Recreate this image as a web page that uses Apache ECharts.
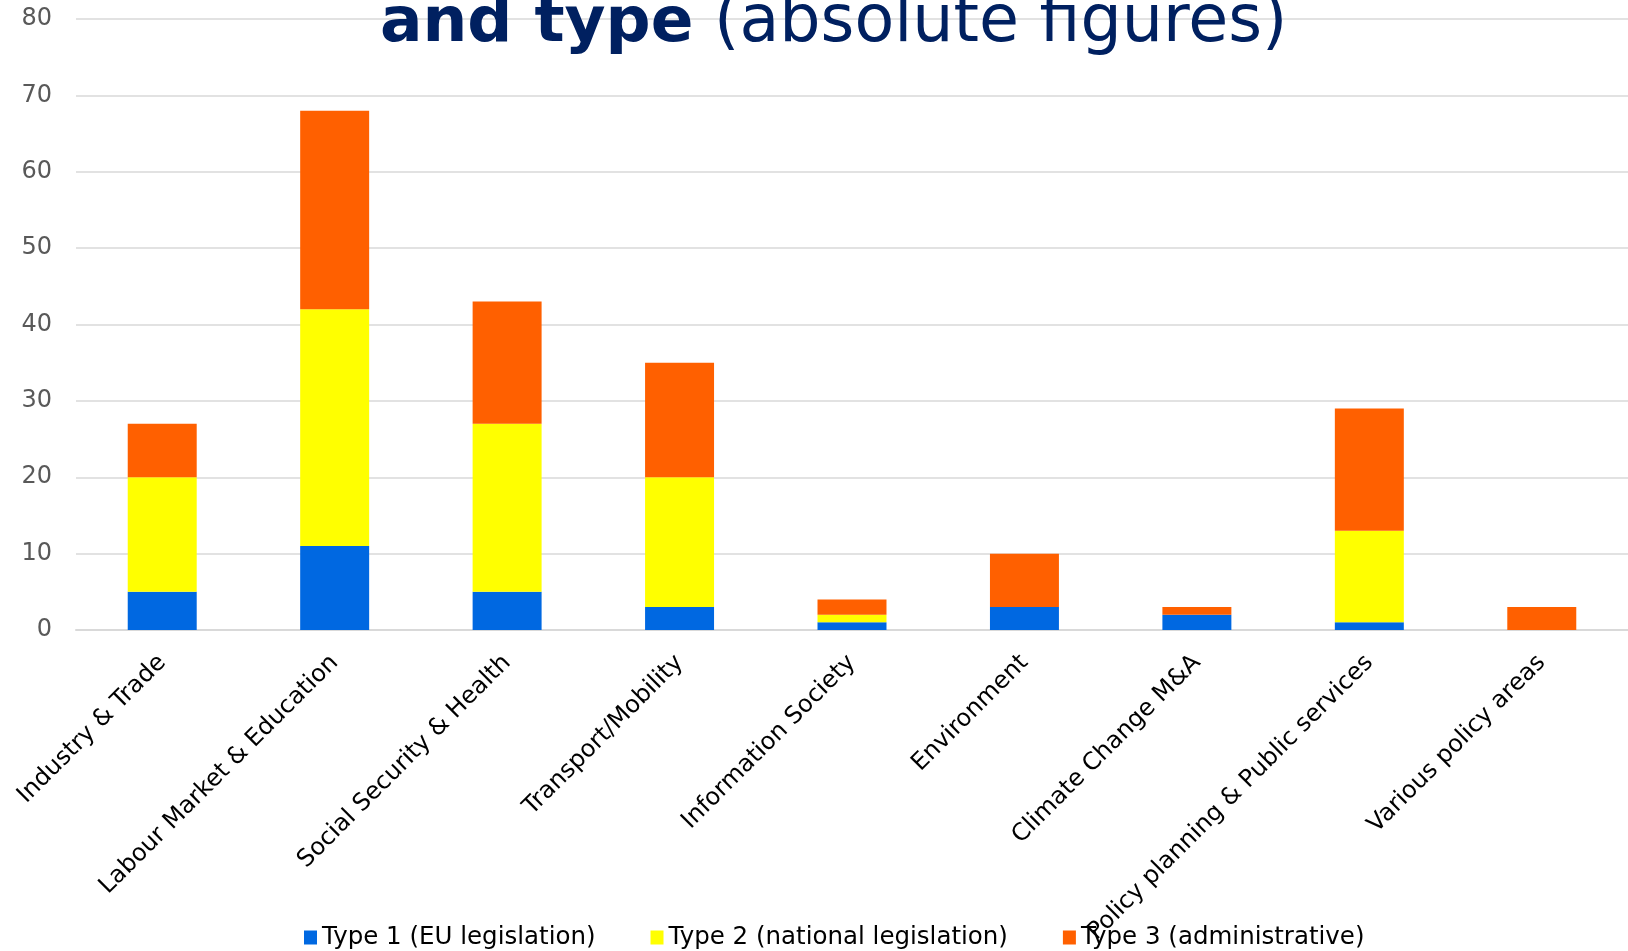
<!DOCTYPE html>
<html>
<head>
<meta charset="utf-8">
<script src="https://cdn.jsdelivr.net/npm/echarts@6/dist/echarts.min.js"></script>
<style>
  html, body { margin: 0; padding: 0; background: #fff; }
  #main { width: 1628px; height: 951px; }
</style>
</head>
<body>
<div id="main"></div>
<script>
// policy areas on the x axis
var categories = [
  "Industry & Trade",
  "Labour Market & Education",
  "Social Security & Health",
  "Transport/Mobility",
  "Information Society",
  "Environment",
  "Climate Change M&A",
  "Policy planning & Public services",
  "Various policy areas"
];

var type1 = [5, 11, 5, 3, 1, 3, 2, 1, 0];
var type2 = [15, 31, 22, 17, 1, 0, 0, 12, 0];
var type3 = [7, 26, 16, 15, 2, 7, 1, 16, 3];

var seriesNames = ["Type 1 (EU legislation)", "Type 2 (national legislation)", "Type 3 (administrative)"];
var colors = ["#0068e1", "#ffff00", "#ff6000"];

var font = "DejaVu Sans, Verdana, sans-serif";

var chart = echarts.init(document.getElementById("main"));

function barSeries(name, data, color) {
  return {
    name: name,
    type: "bar",
    stack: "total",
    barWidth: "40%",
    data: data,
    itemStyle: { color: color },
    emphasis: { disabled: true }
  };
}

var option = {
  animation: false,
  title: {
    text: "{b|and type}{n| (absolute figures)}",
    left: 380,
    top: -8,
    padding: 0,
    textStyle: {
      rich: {
        b: { fontFamily: font, fontSize: 63, fontWeight: "bold", color: "#002060" },
        n: { fontFamily: font, fontSize: 65, fontWeight: "normal", color: "#002060" }
      }
    }
  },
  legend: {
    left: 304,
    top: 925,
    padding: 0,
    icon: "rect",
    itemWidth: 13,
    itemHeight: 14,
    itemGap: 55,
    textStyle: { fontFamily: font, fontSize: 24.5, color: "#000" },
    data: seriesNames
  },
  grid: {
    left: 76,
    right: -2,
    top: 19,
    bottom: 321,
    containLabel: false
  },
  xAxis: {
    type: "category",
    data: categories,
    axisLine: { lineStyle: { color: "#d9d9d9", width: 2 } },
    axisTick: { show: false },
    axisLabel: {
      interval: 0,
      rotate: 45,
      margin: 29,
      fontFamily: font,
      fontSize: 24,
      color: "#000"
    }
  },
  yAxis: {
    type: "value",
    min: 0,
    max: 80,
    interval: 10,
    axisLine: { show: false },
    axisTick: { show: false },
    splitLine: { lineStyle: { color: "#d9d9d9", width: 1.5 } },
    axisLabel: {
      margin: 24,
      fontFamily: font,
      fontSize: 24,
      color: "#595959"
    }
  },
  series: [
    barSeries(seriesNames[0], type1, colors[0]),
    barSeries(seriesNames[1], type2, colors[1]),
    barSeries(seriesNames[2], type3, colors[2])
  ]
};

chart.setOption(option);
</script>
</body>
</html>
